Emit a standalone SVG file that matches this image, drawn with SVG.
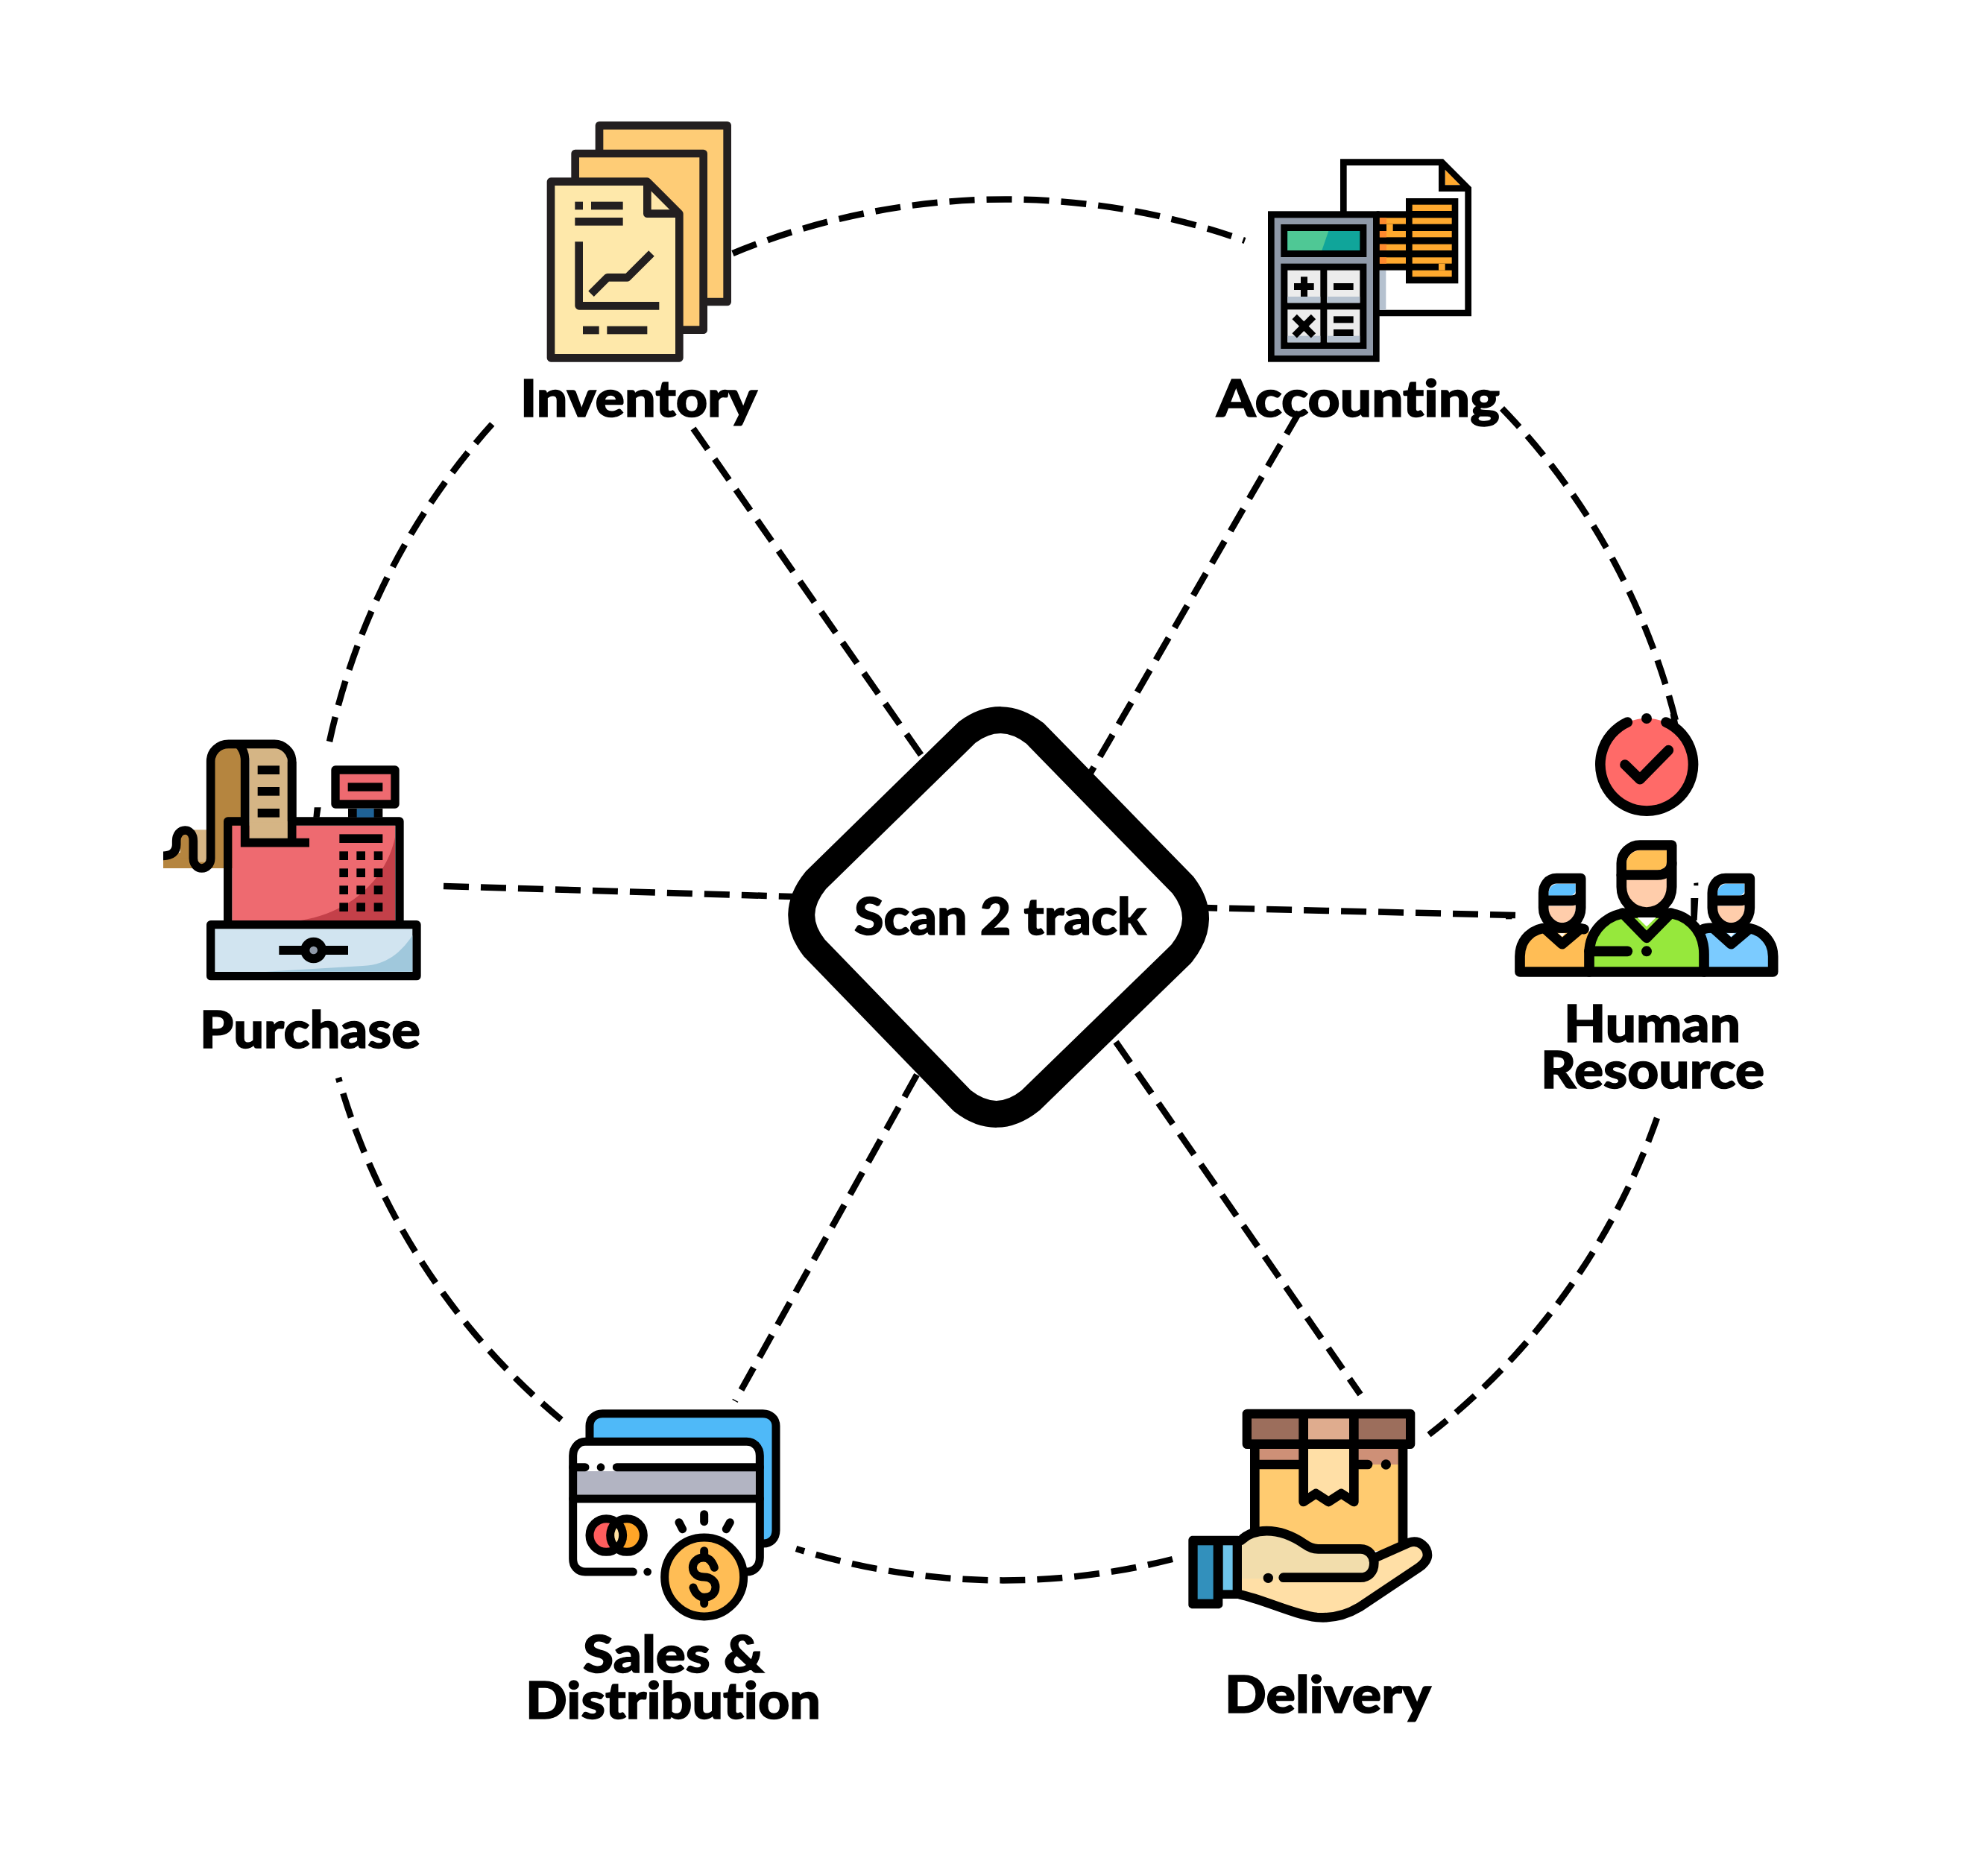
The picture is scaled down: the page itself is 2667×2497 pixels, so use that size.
<svg xmlns="http://www.w3.org/2000/svg" width="2667" height="2497" viewBox="0 0 2667 2497">
<style>
.lab{font-family:"Lato","Liberation Sans",sans-serif;font-weight:900;font-size:68px;fill:#000;stroke:#000;stroke-width:1.4;font-variant-ligatures:none}
.dash{fill:none;stroke:#000;stroke-width:8.5;stroke-dasharray:34 16}
.k{fill:#000;stroke:none}
.s{fill:none;stroke:#000;stroke-linecap:round;stroke-linejoin:round}
.n{stroke:none}
</style>
<rect width="2667" height="2497" fill="#fff"/>
<g id="connectors">
<path class="dash" d="M930 575L1237 1015"/>
<path class="dash" d="M1743 553L1463 1037"/>
<path class="dash" d="M595 1189L1063 1203"/>
<path class="dash" d="M2033 1228L1616 1218"/>
<path class="dash" d="M1230 1442L986 1880"/>
<path class="dash" d="M1497 1398L1825 1871"/>
<path class="dash" d="M983 340A958 958 0 0 1 1670 323"/>
<path class="dash" d="M2015 548A928 928 0 0 1 2250 975"/>
<path class="dash" d="M2223 1500A928 928 0 0 1 1917 1925"/>
<path class="dash" d="M1573 2092A928 928 0 0 1 1068 2078"/>
<path class="dash" d="M753 1905A928 928 0 0 1 454 1446"/>
<path class="dash" d="M442 995A928 928 0 0 1 663 566"/>
</g>
<g id="node-center">
<path d="M1297.5 982.5Q1343 949 1388.5 984L1587 1187.5Q1622 1233 1585 1279.5L1382.5 1476.5Q1337 1513 1291 1477L1092.5 1272Q1057 1227 1094.5 1181Z" fill="#fff" stroke="#000" stroke-width="36" stroke-linejoin="round"/>
<text class="lab" x="1146" y="1254" textLength="392" lengthAdjust="spacingAndGlyphs">Scan 2 track</text>
</g>
<g id="node-inventory">
<g transform="translate(700 140) scale(.33333)">
<rect x="312" y="85" width="515" height="710" fill="#FECC76" stroke="#231F20" stroke-width="32" stroke-linejoin="round"/>
<rect x="215" y="198" width="516" height="710" fill="#FECC76" stroke="#231F20" stroke-width="32" stroke-linejoin="round"/>
<path d="M117 311H505L634 440V1021H117Z" fill="#FEE8AA" stroke="#231F20" stroke-width="32" stroke-linejoin="round"/>
<path d="M505 311V440H634" fill="none" stroke="#231F20" stroke-width="32" stroke-linejoin="round"/>
<g fill="#231F20">
<rect x="214" y="392" width="32" height="32"/><rect x="279" y="392" width="128" height="32"/><rect x="214" y="456" width="193" height="32"/>
<rect x="246" y="893" width="65" height="32"/><rect x="343" y="893" width="162" height="32"/>
</g>
<path d="M230 553V811H553M279 763L345 697H425L522 600" fill="none" stroke="#231F20" stroke-width="32" stroke-linejoin="round"/>
</g>
<text class="lab" x="698" y="559" textLength="318" lengthAdjust="spacingAndGlyphs">Inventory</text>
</g>
<g id="node-accounting">
<g transform="translate(1680 190) scale(.33333)">
<path d="M367 83H763L869 189V690H367Z" fill="#fff" stroke="#000" stroke-width="26"/>
<path d="M776 113L836 175H776Z" fill="#FFA92E"/>
<path d="M763 83V188H869" fill="none" stroke="#000" stroke-width="26"/>
<rect x="512" y="518" width="26" height="159" fill="#B5C1CF"/>
<rect x="500" y="280" width="130" height="238" fill="#000"/>
<g fill="#FFA92E">
<rect x="512" y="307" width="106" height="25"/><rect x="512" y="360" width="106" height="25"/><rect x="512" y="413" width="106" height="25"/><rect x="512" y="466" width="106" height="25"/>
<rect x="540" y="332" width="26" height="28"/>
</g>
<g fill="#FF8A2E">
<rect x="512" y="307" width="28" height="25"/><rect x="512" y="360" width="28" height="25"/><rect x="512" y="413" width="28" height="25"/><rect x="512" y="466" width="28" height="25"/>
</g>
<rect x="618" y="228" width="211" height="343" fill="#000"/>
<g fill="#FFA92E">
<rect x="644" y="254" width="159" height="25"/><rect x="644" y="307" width="159" height="25"/><rect x="644" y="360" width="159" height="25"/><rect x="644" y="413" width="159" height="25"/><rect x="644" y="466" width="159" height="25"/><rect x="644" y="518" width="159" height="26"/>
<rect x="750" y="491" width="26" height="27"/>
</g>
<rect x="63" y="280" width="449" height="607" fill="#000"/>
<rect x="89" y="307" width="397" height="554" fill="#8F99A8"/>
<rect x="115" y="333" width="345" height="132" fill="#000"/>
<rect x="142" y="360" width="291" height="78" fill="#10A59A"/>
<path d="M142 360H307L280 438H142Z" fill="#4FC895"/>
<rect x="115" y="491" width="345" height="343" fill="#000"/>
<g fill="#ECECEC">
<rect x="142" y="518" width="132" height="131"/><rect x="301" y="518" width="132" height="131"/><rect x="142" y="676" width="132" height="132"/><rect x="301" y="676" width="132" height="132"/>
</g>
<g fill="#B5C1CF">
<rect x="142" y="624" width="132" height="25"/><rect x="301" y="624" width="132" height="25"/><rect x="142" y="782" width="132" height="26"/><rect x="301" y="782" width="132" height="26"/>
</g>
<g fill="#000">
<rect x="168" y="570" width="80" height="27"/><rect x="195" y="544" width="27" height="80"/>
<rect x="327" y="570" width="80" height="27"/><rect x="327" y="703" width="80" height="27"/><rect x="327" y="756" width="80" height="27"/>
</g>
<path d="M170 705L246 781M246 705L170 781" stroke="#000" stroke-width="27" fill="none"/>
</g>
<text class="lab" x="1632" y="559" textLength="380" lengthAdjust="spacingAndGlyphs">Accounting</text>
</g>
<g id="node-purchase">
<g transform="translate(200 970) scale(.33333)">
<path d="M248 585V155C248 115 280 85 320 85H386V585Z" fill="#B5853F"/>
<path d="M385 102H510C540 102 558 125 558 155V470H404V150C404 130 395 112 385 102Z" fill="#D5B585"/>
<rect x="57" y="522" width="243" height="63" fill="#B5853F"/>
<rect x="178" y="430" width="60" height="130" fill="#D5B585"/>
<rect x="125" y="445" width="37" height="100" fill="#B5853F"/>
<path d="M575 396V155C575 115 540 85 505 85H320C280 85 248 115 248 155V545C248 570 230 585 212 585C195 585 178 570 178 545V475C178 450 165 432 145 432C125 432 110 450 110 475V490C110 520 90 535 57 535" fill="none" stroke="#000" stroke-width="35"/>
<path d="M334 413H990V795H334Z" fill="#EE6A70"/>
<path d="M990 460C960 610 830 760 610 795H990Z" fill="#C44049"/>
<path d="M404 400H558V470H404Z" fill="#D5B585"/>
<path d="M386 150C386 125 378 105 360 85" fill="none" stroke="#000" stroke-width="35"/>
<path d="M386 396H317V812M1008 812V396H575" fill="none" stroke="#000" stroke-width="34" stroke-linejoin="round"/>
<path d="M386 150V482H645M575 155V482" fill="none" stroke="#000" stroke-width="35"/>
<g fill="#000">
<rect x="437" y="172" width="88" height="35"/><rect x="437" y="258" width="88" height="35"/><rect x="437" y="345" width="88" height="35"/>
<rect x="766" y="448" width="174" height="35"/>
<rect x="766" y="517" width="35" height="35"/><rect x="835" y="517" width="35" height="35"/><rect x="905" y="517" width="35" height="35"/>
<rect x="766" y="586" width="35" height="35"/><rect x="835" y="586" width="35" height="35"/><rect x="905" y="586" width="35" height="35"/>
<rect x="766" y="655" width="35" height="35"/><rect x="835" y="655" width="35" height="35"/><rect x="905" y="655" width="35" height="35"/>
<rect x="766" y="724" width="35" height="35"/><rect x="835" y="724" width="35" height="35"/><rect x="905" y="724" width="35" height="35"/>
<rect x="801" y="345" width="139" height="35"/>
<path d="M665 340H692L686 380H661Z"/>
</g>
<rect x="836" y="345" width="69" height="35" fill="#1F6296"/>
<rect x="750" y="189" width="240" height="138" fill="#EE6A70" stroke="#000" stroke-width="34" stroke-linejoin="round"/>
<rect x="800" y="241" width="140" height="34" fill="#000"/>
<rect x="248" y="812" width="829" height="207" fill="#D1E4F0" stroke="#000" stroke-width="34" stroke-linejoin="round"/>
<path d="M1060 855C1010 930 950 975 860 978L470 1001H1060Z" fill="#A0C8DC"/>
<rect x="523" y="897" width="278" height="36" fill="#000"/>
<circle cx="662" cy="915" r="34" fill="#8F99A8" stroke="#000" stroke-width="36"/>
</g>
<text class="lab" x="268" y="1406" textLength="296" lengthAdjust="spacingAndGlyphs">Purchase</text>
</g>
<g id="node-hr">
<g transform="translate(2020 950) scale(.33333)">
<circle cx="567" cy="228" r="187" fill="#FF6A68"/>
<path d="M490 57A187 187 0 1 0 645 57" fill="none" stroke="#000" stroke-width="41" stroke-linecap="round"/>
<circle cx="567" cy="42" r="21" fill="#000"/>
<path class="s" d="M480 228L540 287L655 170" stroke-width="41"/>
<path d="M662 25L685 22L695 70L670 70Z" fill="#000"/>
<path d="M745 765H775L770 855H745ZM757 705L775 703V715H757Z" fill="#000"/>
<rect x="0" y="825" width="25" height="25" fill="#000"/>

<path class="n" d="M57 1062V1000C57 930 110 885 170 885H300L336 900V1062Z" fill="#FFBD55"/>
<path class="n" d="M213 907H240L227 920Z" fill="#fff"/>
<path class="s" d="M315 890C300 885 290 885 280 885H170C110 885 57 930 57 1000V1062H336" stroke-width="41"/>
<path class="s" d="M160 890L227 950L298 890" stroke-width="41"/>
<path class="n" d="M172 745C172 725 190 707 210 707H281V735C281 745 270 755 260 755H172Z" fill="#5EC0FF"/>
<path class="n" d="M172 797H260L281 792V810C281 840 255 865 227 865C200 865 172 840 172 810Z" fill="#FFCDAB"/>
<path class="s" d="M302 686H205C170 686 152 715 152 745V805C152 850 190 885 227 885C265 885 302 850 302 805ZM152 775H260C285 775 302 765 302 745" stroke-width="41"/>

<path class="n" d="M798 900L835 885H960C1020 885 1076 930 1076 1000V1062H798Z" fill="#7BCBFF"/>
<path class="n" d="M893 907H920L907 920Z" fill="#fff"/>
<path class="s" d="M795 890C810 885 820 885 835 885H960C1020 885 1076 930 1076 1000V1062H798" stroke-width="41"/>
<path class="s" d="M840 890L907 950L978 890" stroke-width="41"/>
<path class="n" d="M852 745C852 725 870 707 890 707H961V735C961 745 950 755 940 755H852Z" fill="#5EC0FF"/>
<path class="n" d="M852 797H940L961 792V810C961 840 935 865 907 865C880 865 852 840 852 810Z" fill="#FFCDAB"/>
<path class="s" d="M982 686H885C850 686 832 715 832 745V805C832 850 870 885 907 885C945 885 982 850 982 805ZM832 775H940C965 775 982 765 982 745" stroke-width="41"/>

<path d="M336 1062V990C336 885 420 825 500 825H640C720 825 798 885 798 990V1062Z" fill="#96E83C" stroke="#000" stroke-width="41" stroke-linejoin="round"/>
<path class="n" d="M530 843H605L567 880Z" fill="#fff"/>
<path class="s" d="M470 825L567 925L665 825" stroke-width="41"/>
<path class="s" d="M336 979H490" stroke-width="41"/>
<circle cx="567" cy="979" r="21" fill="#000"/>
<path class="s" d="M668 552H540C500 552 466 585 466 625V720C466 775 510 822 567 822C625 822 668 775 668 720Z" stroke-width="41" style="fill:#FFCDAB"/>
<path class="n" d="M486 652V625C486 595 515 573 545 573H648V620C648 640 630 652 610 652Z" fill="#FFBF55"/>
<path class="s" d="M466 672H610C640 672 668 655 668 625" stroke-width="41"/>
</g>
<text class="lab"><tspan x="2098" y="1398" textLength="237" lengthAdjust="spacingAndGlyphs">Human</tspan><tspan x="2067" y="1460" textLength="300" lengthAdjust="spacingAndGlyphs">Resource</tspan></text>
</g>
<g id="node-sales">
<g transform="translate(740 1870) scale(.33333)">
<path d="M153 190V130C153 100 175 80 205 80H850C880 80 903 100 903 130V550C903 585 880 603 853 603H700V190Z" fill="#4FB9F8"/>
<path class="s" d="M153 190V130C153 100 175 80 205 80H850C880 80 903 100 903 130V550C903 585 880 603 853 603" stroke-width="33"/>
<path d="M135 193H785C815 193 838 215 838 250V660C838 695 815 717 785 717H135C105 717 86 695 86 665V250C86 215 105 193 135 193Z" fill="#fff"/>
<rect x="102" y="312" width="719" height="95" fill="#B2B4C2"/>
<path class="s" d="M328 717H135C105 717 86 695 86 665V250C86 215 110 193 135 193H785C815 193 838 215 838 250V660C838 695 815 717 785 717" stroke-width="33"/>
<path class="s" d="M86 296H135M262 296H838M86 423H838" stroke-width="33"/>
<circle cx="198" cy="296" r="16" fill="#000"/>
<circle cx="220" cy="570" r="67" fill="#FF5E5E"/>
<circle cx="303" cy="570" r="67" fill="#FFA528"/>
<path d="M261 518C285 545 285 595 261 622C238 595 238 545 261 518Z" fill="#FFE0A0"/>
<circle cx="220" cy="570" r="67" fill="none" stroke="#000" stroke-width="33"/>
<circle cx="303" cy="570" r="67" fill="none" stroke="#000" stroke-width="33"/>
<circle cx="386" cy="717" r="16" fill="#000"/>
<circle cx="614" cy="738" r="159" fill="#FFBD55" stroke="#000" stroke-width="33"/>
<path class="s" d="M614 485V515M513 518L527 545M718 518L703 545" stroke-width="33"/>
<path class="s" d="M655 700C645 670 630 660 612 660C585 660 568 678 568 700C568 725 590 738 614 738C640 738 660 755 660 778C660 805 640 820 614 820C595 820 578 805 570 780M614 632V660M614 820V845" stroke-width="33"/>
</g>
<text class="lab"><tspan x="782" y="2244" textLength="243" lengthAdjust="spacingAndGlyphs">Sales &amp;</tspan><tspan x="705" y="2306" textLength="396" lengthAdjust="spacingAndGlyphs">Distribution</tspan></text>
</g>
<g id="node-delivery">
<g transform="translate(1580 1870) scale(.33333)">
<rect x="310" y="203" width="596" height="430" fill="#FFCB70"/>
<rect x="329" y="222" width="558" height="63" fill="#CE9077"/>
<path d="M525 222H690V400L658 382L607 412L558 382L525 400Z" fill="#FFDFA6"/>
<path class="s" d="M310 203V560M906 203V600" stroke-width="38"/>
<path class="s" d="M310 285H487M728 285H765" stroke-width="38"/>
<circle cx="838" cy="285" r="20" fill="#000"/>
<path class="s" d="M506 100V435L556 402L607 435L658 402L709 435V100" stroke-width="38"/>
<rect x="279" y="81" width="657" height="122" fill="#000" stroke="#000" stroke-width="38" stroke-linejoin="round"/>
<rect x="297" y="100" width="190" height="84" fill="#9C6E5C"/>
<rect x="525" y="100" width="165" height="84" fill="#DFAC8E"/>
<rect x="728" y="100" width="190" height="84" fill="#9C6E5C"/>
<path d="M240 600C300 545 400 530 510 605C530 620 545 625 565 625H735C770 625 790 645 795 660L930 600C975 585 1005 620 1005 650C1005 670 985 690 970 700L730 860C680 890 620 905 560 900C470 890 350 830 240 808Z" fill="#FFDFA6"/>
<path d="M240 600C300 545 400 530 510 605C530 620 545 625 565 625H735C770 625 790 655 790 680C790 720 765 745 735 745H240Z" fill="#F2DDAC"/>
<path class="s" d="M255 590C300 545 400 530 510 605C530 620 545 625 565 625H735C770 625 790 655 790 680C790 720 765 740 735 740H425" stroke-width="38"/>
<circle cx="364" cy="742" r="20" fill="#000"/>
<path class="s" d="M795 660L930 600C975 585 1005 620 1005 650C1005 670 985 690 970 700L730 860C680 890 620 905 560 900C470 890 350 830 250 808" stroke-width="38"/>
<path d="M60 572H240C250 572 258 580 258 590V825H181V850C181 858 172 865 165 865H60C50 865 43 858 43 850V590C43 580 50 572 60 572Z" fill="#000"/>
<rect x="80" y="610" width="63" height="217" fill="#3290BC"/>
<rect x="182" y="610" width="39" height="180" fill="#6EC5EB"/>
</g>
<text class="lab" x="1643" y="2298" textLength="277" lengthAdjust="spacingAndGlyphs">Delivery</text>
</g>
</svg>
